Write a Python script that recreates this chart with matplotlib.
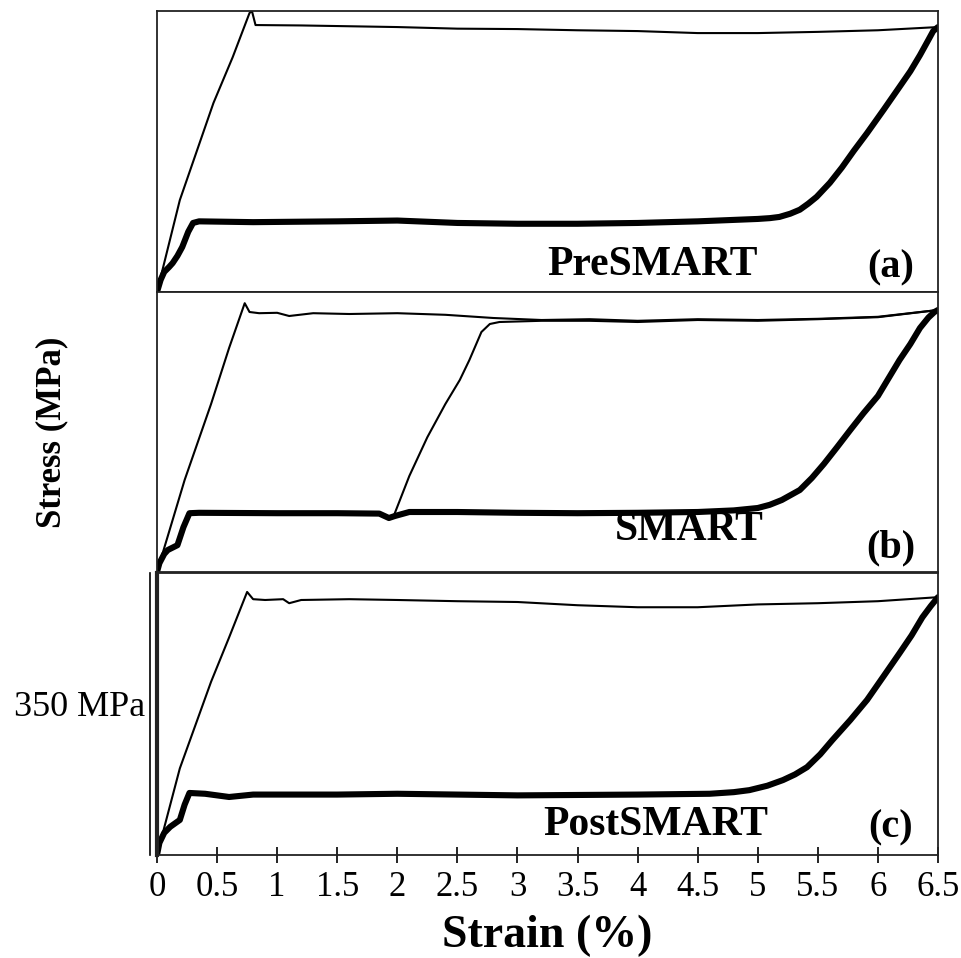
import matplotlib
matplotlib.use("Agg")
import matplotlib.pyplot as plt

plt.rcParams['font.family'] = ['Liberation Serif', 'DejaVu Serif']

# --- data (strain %, stress MPa) ---
# (a) PreSMART
a_thin_x = [0, 0.19, 0.47, 0.63, 0.77, 0.79, 0.82, 1.2, 1.6, 2.0, 2.5, 3.0, 3.5, 4.0, 4.5, 5.0, 5.5, 6.0, 6.5]
a_thin_y = [0, 229, 471, 585, 695, 700, 665, 664, 662, 660, 656, 655, 652, 650, 645, 645, 648, 652, 660]
a_thick_x = [0, 0.03, 0.06, 0.1, 0.13, 0.17, 0.21, 0.26, 0.3, 0.35, 0.8, 1.5, 2.0, 2.5, 3.0, 3.5, 4.0, 4.5,
             5.0, 5.1, 5.18, 5.27, 5.35, 5.42, 5.49, 5.6, 5.7, 5.8, 5.91, 6.05, 6.18, 6.27, 6.35, 6.42,
             6.46, 6.5]
a_thick_y = [0, 30, 50, 62, 72, 90, 112, 150, 172, 176, 174, 176, 178, 172, 170, 170, 172, 176,
             182, 184, 187, 195, 205, 220, 237, 272, 310, 352, 396, 455, 511, 550, 590, 628,
             650, 660]

# (b) SMART
b_thin_x = [0, 0.23, 0.45, 0.6, 0.73, 0.77, 0.85, 1.0, 1.1, 1.3, 1.6, 2.0, 2.4, 2.8, 3.2, 3.6, 4.0, 4.5,
            5.0, 5.5, 6.0, 6.5]
b_thin_y = [0, 230, 420, 560, 672, 650, 647, 648, 640, 647, 645, 647, 643, 635, 630, 632, 628, 632,
            630, 633, 638, 655]
b_reload_x = [1.97, 2.1, 2.25, 2.4, 2.52, 2.6, 2.7, 2.77, 2.85, 3.2, 3.6, 4.0, 4.5, 5.0, 5.5, 6.0, 6.5]
b_reload_y = [140, 240, 337, 420, 480, 530, 600, 620, 625, 628, 628, 625, 630, 628, 632, 637, 655]
b_thick_x = [0, 0.02, 0.06, 0.09, 0.17, 0.22, 0.27, 0.35, 1.0, 1.5, 1.85, 1.93, 1.98, 2.1, 2.5, 3.0, 3.5,
             4.0, 4.5, 4.8, 5.0, 5.1, 5.2, 5.35, 5.45, 5.55, 5.66, 5.77, 5.88, 6.0, 6.1, 6.18, 6.27,
             6.35, 6.42, 6.47, 6.5]
b_thick_y = [0, 22, 45, 55, 67, 112, 147, 148, 147, 147, 146, 135, 140, 150, 150, 148, 147,
             148, 150, 154, 160, 168, 180, 205, 235, 270, 312, 355, 397, 440, 490, 530, 570,
             610, 636, 650, 655]

# (c) PostSMART
c_thin_x = [0, 0.19, 0.45, 0.6, 0.75, 0.8, 0.9, 1.05, 1.1, 1.2, 1.6, 2.0, 2.5, 3.0, 3.5, 4.0, 4.5, 5.0,
            5.5, 6.0, 6.5]
c_thin_y = [0, 215, 430, 540, 653, 635, 633, 635, 625, 633, 635, 633, 630, 628, 620, 615, 615, 622,
            625, 630, 640]
c_thick_x = [0, 0.02, 0.06, 0.11, 0.19, 0.23, 0.27, 0.4, 0.6, 0.8, 1.5, 2.0, 3.0, 4.0, 4.6, 4.8, 4.93,
             5.08, 5.21, 5.31, 5.41, 5.52, 5.62, 5.77, 5.91, 6.05, 6.18, 6.28, 6.37, 6.44, 6.5]
c_thick_y = [0, 30, 55, 70, 87, 125, 154, 152, 144, 150, 150, 152, 148, 150, 152, 156, 161,
             172, 186, 200, 218, 250, 285, 335, 385, 445, 501, 545, 590, 618, 640]

x_ticks = [0, 0.5, 1, 1.5, 2, 2.5, 3, 3.5, 4, 4.5, 5, 5.5, 6, 6.5]
x_tick_labels = ['0', '0.5', '1', '1.5', '2', '2.5', '3', '3.5', '4', '4.5', '5', '5.5', '6', '6.5']
panel_names = ['PreSMART', 'SMART', 'PostSMART']
panel_tags = ['(a)', '(b)', '(c)']

W, H = 962, 958
fig = plt.figure(figsize=(W / 100, H / 100), dpi=100)

def box(top, bottom):
    return [157 / W, 1 - bottom / H, (938 - 157) / W, (bottom - top) / H]

ax_a = fig.add_axes(box(11, 292))
ax_b = fig.add_axes(box(292, 572))
ax_c = fig.add_axes(box(573, 855))
axes = [ax_a, ax_b, ax_c]

ax_a.plot(a_thin_x, a_thin_y, color='black', lw=1.5)
ax_a.plot(a_thick_x, a_thick_y, color='black', lw=4.4, solid_capstyle='round', solid_joinstyle='round')

ax_b.plot(b_thin_x, b_thin_y, color='black', lw=1.5)
ax_b.plot(b_reload_x, b_reload_y, color='black', lw=1.5)
ax_b.plot(b_thick_x, b_thick_y, color='black', lw=4.4, solid_capstyle='round', solid_joinstyle='round')

ax_c.plot(c_thin_x, c_thin_y, color='black', lw=1.5)
ax_c.plot(c_thick_x, c_thick_y, color='black', lw=4.4, solid_capstyle='round', solid_joinstyle='round')
# extra frame line left of panel (c)
ax_c.plot([-0.058, -0.058], [0, 700], color='black', lw=1.2, clip_on=False)
ax_c.spines['left'].set_linewidth(3)

name_pos = [(0.634, 0.096), (0.682, 0.15), (0.638, 0.106)]
tag_pos = [(0.939, 0.085), (0.939, 0.086), (0.939, 0.096)]

for ax, name, tag, npos, tpos in zip(axes, panel_names, panel_tags, name_pos, tag_pos):
    ax.set_xlim(0, 6.5)
    ax.set_ylim(0, 700)
    ax.set_yticks([])
    for s in ax.spines.values():
        s.set_color('#222222')
        if s.get_linewidth() < 2:
            s.set_linewidth(1.3)
    ax.text(npos[0], npos[1], name, transform=ax.transAxes, ha='center', va='center',
            fontsize=30, fontweight='bold')
    ax.text(tpos[0], tpos[1], tag, transform=ax.transAxes, ha='center', va='center',
            fontsize=29, fontweight='bold')

ax_a.set_xticks([])
ax_b.set_xticks([])
ax_c.set_xticks(x_ticks)
ax_c.set_xticklabels(x_tick_labels)
ax_c.tick_params(axis='x', direction='inout', length=11, width=1.2, pad=6, labelsize=25)
ax_c.set_xlabel('Strain (%)', fontsize=33, fontweight='bold', labelpad=8)

fig.text(52 / W, 1 - 432 / H, 'Stress (MPa)', rotation=90, ha='center', va='center',
         fontsize=25, fontweight='bold')
fig.text(145 / W, 1 - 708 / H, '350 MPa', ha='right', va='center', fontsize=26)

fig.savefig('out.png', dpi=100)
